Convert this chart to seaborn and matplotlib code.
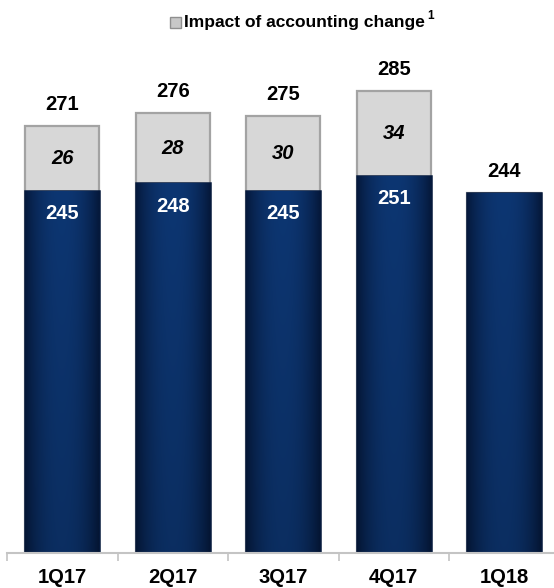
import numpy as np
import pandas as pd
import matplotlib
matplotlib.use("Agg")
import matplotlib.pyplot as plt
from matplotlib import font_manager
from matplotlib.patches import Rectangle
import seaborn as sns

# Quarterly values
quarters = ["1Q17", "2Q17", "3Q17", "4Q17", "1Q18"]
base_values = [245, 248, 245, 251, 244]
impact_values = [26, 28, 30, 34, 0]
total_values = [271, 276, 275, 285, 244]
legend_label = "Impact of accounting change"

sns.set_theme(style="white")
available = {f.name for f in font_manager.fontManager.ttflist}
family = "Liberation Sans Narrow" if "Liberation Sans Narrow" in available else "Liberation Sans"
plt.rcParams["font.family"] = [family, "DejaVu Sans"]

NAVY_EDGE = np.array([0x05, 0x19, 0x3C]) / 255
NAVY_MID = np.array([0x0D, 0x36, 0x72]) / 255
GREY = "#D7D7D7"
GREY_EDGE = "#A3A3A3"

df = pd.DataFrame({"quarter": quarters, "base": base_values,
                   "impact": impact_values, "total": total_values})

W, H, DPI = 554, 588, 100
fig = plt.figure(figsize=(W / DPI, H / DPI), dpi=DPI)
ax = fig.add_axes([7 / W, 35 / H, 547 / W, 553 / H])

# Grey totals behind, navy base on top
sns.barplot(data=df, x="quarter", y="total", color=GREY, width=0.667,
            edgecolor=GREY_EDGE, linewidth=1.6, saturation=1, ax=ax)
n_grey = len(ax.patches)
sns.barplot(data=df, x="quarter", y="base", color=NAVY_MID, width=0.667,
            edgecolor=NAVY_EDGE, linewidth=1.8, saturation=1, ax=ax)
navy_patches = ax.patches[n_grey:]

ymin, ymax = 99.5, 321.5
xmin, xmax = -0.5, 4.45

# Horizontal shading inside the navy bars
xs = np.linspace(-1, 1, 200)
prof = 1 - np.abs(xs) ** 2.2
grad = NAVY_EDGE[None, :] + (NAVY_MID - NAVY_EDGE)[None, :] * prof[:, None]
vs = np.linspace(0, 1, 100)
vprof = 0.85 + 0.15 * vs  # slightly darker toward the bottom
img = grad[None, :, :] * vprof[:, None, None]
for p in navy_patches:
    x0, w = p.get_x(), p.get_width()
    im = ax.imshow(img, extent=[x0, x0 + w, ymin, p.get_height()],
                   origin="lower", aspect="auto", zorder=p.get_zorder() + 0.1,
                   interpolation="bilinear")
    im.set_clip_path(p)

ax.set_xlim(xmin, xmax)
ax.set_ylim(ymin, ymax)

# Value labels
for i, row in df.iterrows():
    ax.annotate(f"{row.total}", (i, row.total), xytext=(0, 11.5),
                textcoords="offset points", ha="center", va="baseline",
                fontsize=14.5, fontweight="bold", color="black", zorder=5)
    if row.impact > 0:
        ax.text(i, row.base + row.impact / 2, f"{row.impact}", ha="center",
                va="center", fontsize=14.5, fontweight="bold", style="italic",
                color="black", zorder=5)
        ax.annotate(f"{row.base}", (i, row.base), xytext=(0, -20.5),
                    textcoords="offset points", ha="center", va="baseline",
                    fontsize=14.5, fontweight="bold", color="white", zorder=5)

# Axes styling
for s in ["left", "right", "top"]:
    ax.spines[s].set_visible(False)
ax.spines["bottom"].set_color("#C4C4C4")
ax.spines["bottom"].set_linewidth(1.5)
ax.set_yticks([])
ax.set_xlabel("")
ax.set_ylabel("")
ax.set_xticks(range(len(quarters)))
ax.set_xticks(np.arange(-0.5, len(quarters) - 0.5, 1.0), minor=True)
ax.tick_params(axis="x", which="major", length=0, pad=10.5)
ax.tick_params(axis="x", which="minor", length=6, width=1.2, color="#C4C4C4",
               direction="out", bottom=True)
for lab in ax.get_xticklabels():
    lab.set_fontsize(14.5)
    lab.set_fontweight("bold")
    lab.set_color("black")

# Legend: grey marker, label and footnote mark
fig.patches.append(Rectangle((170 / W, 1 - 28 / H), 11 / W, 11 / H,
                             transform=fig.transFigure, facecolor="#C8C8C8",
                             edgecolor="#8F8F8F", linewidth=1.0))
t = fig.text(184 / W, 1 - 22.5 / H, legend_label, ha="left", va="center",
             fontsize=12.5, fontweight="bold", color="black")
fig.canvas.draw()
bb = t.get_window_extent()
fig.text((bb.x1 + 2) / W, 1 - 16 / H, "1", ha="left", va="center",
         fontsize=8.5, fontweight="bold", color="black")

fig.savefig("out.png", dpi=DPI)
